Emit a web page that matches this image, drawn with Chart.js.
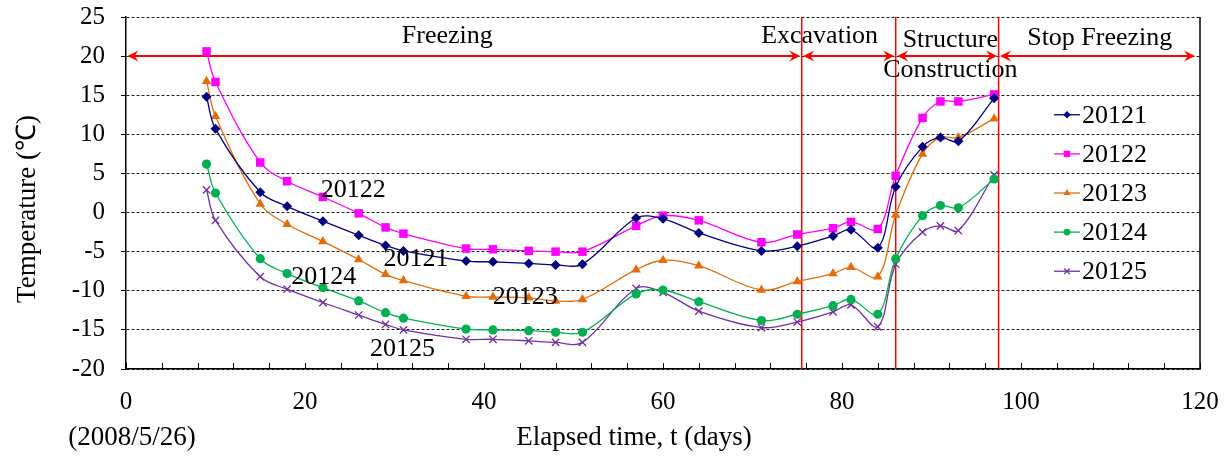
<!DOCTYPE html>
<html>
<head>
<meta charset="utf-8">
<script src="https://cdn.jsdelivr.net/npm/chart.js@4/dist/chart.umd.min.js"></script>
<style>
  html, body { margin: 0; padding: 0; background: #fff; }
  #wrap { width: 1231px; height: 462px; }
</style>
</head>
<body>
<div id="wrap"><canvas id="grafico" width="1231" height="462"></canvas></div>
<script>
// elapsed days of each reading
const dias = [9, 10, 15, 18, 22, 26, 29, 31, 38, 41, 45, 48, 51, 57, 60, 64, 71, 75, 79, 81, 84, 86, 89, 91, 93, 97];

// temperatures (°C) per gauge
const s20121 = [14.8, 10.7, 2.6, 0.8, -1.1, -2.9, -4.2, -4.9, -6.2, -6.3, -6.5, -6.7, -6.6, -0.7, -0.8, -2.6, -4.9, -4.3, -3.0, -2.2, -4.5, 3.3, 8.4, 9.6, 9.1, 14.6];
const s20122 = [20.6, 16.7, 6.4, 4.0, 2.0, -0.1, -1.9, -2.7, -4.6, -4.7, -4.9, -5.0, -5.0, -1.7, -0.4, -1.0, -3.8, -2.8, -2.0, -1.2, -2.1, 4.7, 12.1, 14.2, 14.2, 15.1];
const s20123 = [16.8, 12.3, 1.1, -1.5, -3.7, -6.0, -7.9, -8.7, -10.7, -10.8, -10.9, -11.3, -11.1, -7.3, -6.1, -6.8, -9.9, -8.8, -7.8, -7.0, -8.2, -0.3, 7.5, 9.6, 9.6, 12.0];
const s20124 = [6.2, 2.5, -5.9, -7.8, -9.6, -11.3, -12.8, -13.5, -14.9, -15.0, -15.1, -15.3, -15.3, -10.4, -9.9, -11.4, -13.8, -13.0, -11.9, -11.1, -13.0, -5.9, -0.4, 0.9, 0.6, 4.3];
const s20125 = [2.9, -1.0, -8.2, -9.8, -11.5, -13.1, -14.3, -15.0, -16.2, -16.2, -16.4, -16.6, -16.6, -9.7, -10.2, -12.6, -14.7, -14.0, -12.7, -11.8, -14.6, -6.6, -2.5, -1.7, -2.3, 4.8];

const nomes = ['20121', '20122', '20123', '20124', '20125'];
const series = [s20121, s20122, s20123, s20124, s20125];

// axis ranges
const xMin = 0, xMax = 120, xStep = 20, xMinorStep = 4;
const yMin = -20, yMax = 25, yStep = 5;

// construction stages
const limitesFase = [75.5, 86, 97.5];
const nivelSeta = 20;
const fases = [
  { texto: 'Freezing', x: 35.9, y: 21.7 },
  { texto: 'Excavation', x: 77.5, y: 21.7 },
  { texto: 'Structure', x: 92.1, y: 21.2 },
  { texto: 'Construction', x: 92.1, y: 17.35 },
  { texto: 'Stop Freezing', x: 108.8, y: 21.4 }
];

// curve labels inside the plot
const rotulos = [
  { texto: '20122', x: 25.4, y: 2.9 },
  { texto: '20121', x: 32.4, y: -6.0 },
  { texto: '20124', x: 22.1, y: -8.3 },
  { texto: '20123', x: 44.6, y: -10.8 },
  { texto: '20125', x: 30.9, y: -17.5 }
];

const cores = ['#000080', '#FF00FF', '#E46C0A', '#00B050', '#7030A0'];
const estilos = ['rectRot', 'rect', 'triangle', 'circle', 'crossRot'];
const raios = [5, 6, 5.5, 4.6, 5.2];

const FONTE = '"Liberation Serif", "Times New Roman", serif';

function linha(ctx, x1, y1, x2, y2) {
  ctx.beginPath();
  ctx.moveTo(x1, y1);
  ctx.lineTo(x2, y2);
  ctx.stroke();
}

function ponta(ctx, xt, y, dir) {
  ctx.beginPath();
  ctx.moveTo(xt, y);
  ctx.lineTo(xt - dir * 11, y - 5.5);
  ctx.lineTo(xt - dir * 7, y);
  ctx.lineTo(xt - dir * 11, y + 5.5);
  ctx.closePath();
  ctx.fill();
}

function marcador(ctx, estilo, x, y, r, cor) {
  ctx.save();
  ctx.fillStyle = cor;
  ctx.strokeStyle = cor;
  ctx.lineWidth = 1.2;
  ctx.beginPath();
  if (estilo === 'rectRot') {
    ctx.moveTo(x, y - r); ctx.lineTo(x + r, y); ctx.lineTo(x, y + r); ctx.lineTo(x - r, y);
    ctx.closePath(); ctx.fill();
  } else if (estilo === 'rect') {
    const s = r * Math.SQRT1_2;
    ctx.rect(x - s, y - s, 2 * s, 2 * s); ctx.fill();
  } else if (estilo === 'triangle') {
    ctx.moveTo(x, y - r); ctx.lineTo(x + r * 0.866, y + r * 0.5); ctx.lineTo(x - r * 0.866, y + r * 0.5);
    ctx.closePath(); ctx.fill();
  } else if (estilo === 'circle') {
    ctx.arc(x, y, r, 0, Math.PI * 2); ctx.fill();
  } else {
    const s = r * Math.SQRT1_2;
    ctx.moveTo(x - s, y - s); ctx.lineTo(x + s, y + s);
    ctx.moveTo(x + s, y - s); ctx.lineTo(x - s, y + s);
    ctx.stroke();
  }
  ctx.restore();
}

const extras = {
  id: 'extras',
  beforeDatasetsDraw(chart) {
    const { ctx, chartArea: a, scales: { x, y } } = chart;
    ctx.save();
    ctx.strokeStyle = '#000';
    ctx.lineWidth = 1.5;
    linha(ctx, a.right, a.top, a.right, a.bottom);
    ctx.lineWidth = 1;
    for (let v = xMin; v <= xMax; v += xMinorStep) {
      const px = Math.round(x.getPixelForValue(v)) + 0.5;
      linha(ctx, px, a.bottom, px, a.bottom - 6);
    }

    // stage boundaries
    ctx.strokeStyle = '#FF0000';
    ctx.lineWidth = 1.5;
    limitesFase.forEach(b => {
      const px = x.getPixelForValue(b);
      linha(ctx, px, a.top, px, a.bottom);
    });

    // double-headed arrows at 20 °C
    const yy = y.getPixelForValue(nivelSeta);
    const pontos = [xMin].concat(limitesFase, [xMax]);
    ctx.fillStyle = '#FF0000';
    ctx.lineWidth = 2;
    for (let i = 0; i < pontos.length - 1; i++) {
      const x1 = x.getPixelForValue(pontos[i]) + 1.5;
      const x2 = x.getPixelForValue(pontos[i + 1]) - (i === pontos.length - 2 ? 5 : 1.5);
      linha(ctx, x1 + 6, yy, x2 - 6, yy);
      ponta(ctx, x1, yy, -1);
      ponta(ctx, x2, yy, 1);
    }
    ctx.restore();
  },
  afterDraw(chart) {
    const { ctx, chartArea: a, scales: { x, y } } = chart;
    ctx.save();
    ctx.fillStyle = '#000';
    ctx.textAlign = 'center';
    ctx.textBaseline = 'alphabetic';
    ctx.font = '26px ' + FONTE;
    fases.forEach(f => ctx.fillText(f.texto, x.getPixelForValue(f.x), y.getPixelForValue(f.y)));

    ctx.textBaseline = 'middle';
    rotulos.forEach(r => ctx.fillText(r.texto, x.getPixelForValue(r.x), y.getPixelForValue(r.y)));

    // legend inside plot
    ctx.textAlign = 'left';
    chart.data.datasets.forEach((ds, i) => {
      const py = y.getPixelForValue(12.5 - 5 * i);
      const lx = a.right - 146;
      ctx.strokeStyle = ds.borderColor;
      ctx.lineWidth = 1.3;
      linha(ctx, lx, py, lx + 26, py);
      marcador(ctx, estilos[i], lx + 13, py, raios[i] * 0.75, ds.borderColor);
      ctx.fillStyle = '#000';
      ctx.fillText(ds.label, lx + 28, py + 1);
    });

    // axis titles
    ctx.textAlign = 'center';
    ctx.font = '27px ' + FONTE;
    ctx.fillText('Elapsed time, t (days)', 634, 438);
    ctx.fillText('(2008/5/26)', 132, 438);
    ctx.translate(28, 209);
    ctx.rotate(-Math.PI / 2);
    ctx.fillText('Temperature (℃)', 0, 0);
    ctx.restore();
  }
};

const datasets = series.map((s, i) => ({
  label: nomes[i],
  data: dias.map((d, k) => ({ x: d, y: s[k] })),
  borderColor: cores[i],
  backgroundColor: cores[i],
  borderWidth: 1.3,
  tension: 0.35,
  pointStyle: estilos[i],
  pointRadius: raios[i],
  pointBorderWidth: estilos[i] === 'crossRot' ? 1.3 : 0,
  pointBorderColor: cores[i],
  pointBackgroundColor: cores[i]
}));

const grafico = new Chart(document.getElementById('grafico'), {
  type: 'line',
  data: { datasets: datasets },
  options: {
    responsive: false,
    animation: false,
    devicePixelRatio: 1,
    layout: { padding: { top: 17, right: 31, left: 0, bottom: 0 } },
    plugins: { legend: { display: false }, tooltip: { enabled: false } },
    scales: {
      x: {
        type: 'linear',
        min: xMin,
        max: xMax,
        afterFit: s => { s.height = 93; s.paddingLeft = 0; s.paddingRight = 0; },
        ticks: { stepSize: xStep, autoSkip: false, color: '#000', padding: 18, maxRotation: 0, font: { family: FONTE, size: 25 } },
        grid: { display: false, drawTicks: false },
        border: { display: true, color: '#000', width: 1.5 }
      },
      y: {
        min: yMin,
        max: yMax,
        afterFit: s => { s.width = 126; s.paddingTop = 0; s.paddingBottom = 0; },
        ticks: { stepSize: yStep, color: '#000', padding: 16, font: { family: FONTE, size: 25 } },
        grid: { color: '#222', lineWidth: 1, tickLength: 5, tickColor: '#000', drawTicks: true },
        border: { display: true, color: '#000', width: 1.5, dash: [3, 2] }
      }
    }
  },
  plugins: [extras]
});
</script>
</body>
</html>
